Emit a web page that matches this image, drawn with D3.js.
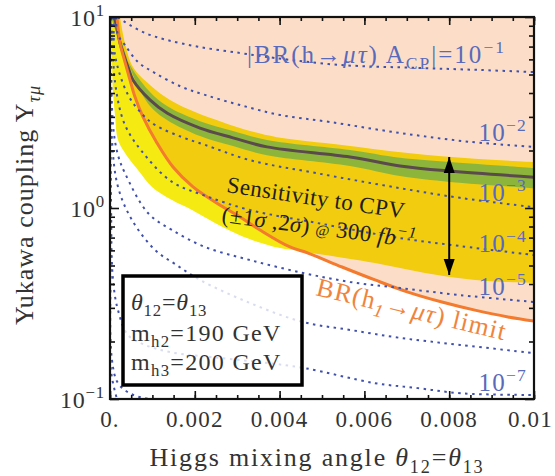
<!DOCTYPE html>
<html><head><meta charset="utf-8">
<script src="https://cdn.jsdelivr.net/npm/d3@7"></script>
<style>body{margin:0;background:#fff}svg{display:block}</style>
</head><body><svg id="c" width="555" height="476"></svg>
<script>
// ---------- data (theta, Yukawa) ----------
const centralLine = [[0.071e-3,10],[0.118e-3,9.65],[0.236e-3,7.31],[0.425e-3,5.47],[0.542e-3,4.68],[0.943e-3,3.68],[1.344e-3,3.14],[2.123e-3,2.62],[2.901e-3,2.33],[3.703e-3,2.09],[5.660e-3,1.85],[6.840e-3,1.66],[8.019e-3,1.56],[10e-3,1.45]];
const green1sUpper = [[0.024e-3,10],[0.165e-3,8.05],[0.354e-3,6.32],[0.542e-3,5.28],[0.943e-3,4.05],[1.344e-3,3.42],[2.123e-3,2.85],[2.901e-3,2.53],[3.703e-3,2.27],[5.660e-3,2.01],[6.840e-3,1.83],[8.019e-3,1.74],[10e-3,1.62]];
const green1sLower = [[0.142e-3,10],[0.283e-3,7.31],[0.472e-3,5.47],[0.590e-3,4.68],[0.943e-3,3.42],[1.344e-3,2.89],[2.123e-3,2.38],[2.901e-3,2.11],[3.703e-3,1.89],[5.660e-3,1.66],[6.840e-3,1.47],[8.019e-3,1.37],[10e-3,1.27]];
const yellow2sUpper = [[0.236e-3,10],[0.354e-3,7.31],[0.542e-3,5.47],[0.943e-3,4.41],[1.415e-3,3.68],[2.005e-3,3.18],[2.642e-3,2.82],[3.302e-3,2.53],[3.939e-3,2.35],[5.472e-3,2.14],[7.028e-3,1.94],[8.608e-3,1.81],[10e-3,1.74]];
const yellow2sLower = [[0.02e-3,10],[0.047e-3,5.95],[0.071e-3,4.00],[0.118e-3,3.07],[0.189e-3,2.27],[0.354e-3,1.94],[0.660e-3,1.58],[0.991e-3,1.29],[1.462e-3,1.10],[1.934e-3,0.976],[2.476e-3,0.835],[2.948e-3,0.740],[3.349e-3,0.680],[4.009e-3,0.617],[4.481e-3,0.596],[5.071e-3,0.567],[6.250e-3,0.515],[7.429e-3,0.457],[8.608e-3,0.420],[10e-3,0.405]];
const brLimit = [[0.165e-3,10],[0.236e-3,7.31],[0.354e-3,5.81],[0.472e-3,4.68],[0.590e-3,3.81],[0.778e-3,3.00],[1.108e-3,2.19],[1.486e-3,1.64],[1.958e-3,1.29],[2.524e-3,1.06],[3.066e-3,0.897],[3.538e-3,0.767],[4.245e-3,0.625],[4.670e-3,0.581],[5.472e-3,0.491],[6.250e-3,0.420],[7.028e-3,0.363],[7.830e-3,0.322],[8.608e-3,0.292],[9.387e-3,0.269],[10e-3,0.256]];
const contourM1 = [[0.189e-3,10],[0.354e-3,9.41],[0.825e-3,8.25],[1.344e-3,7.58],[2.123e-3,6.96],[3.066e-3,6.48],[3.892e-3,6.10],[5.425e-3,5.61],[7.311e-3,5.41],[8.726e-3,5.28],[10e-3,5.15]];
const contourM2 = [[0.142e-3,10],[0.189e-3,8.05],[0.354e-3,7.13],[0.660e-3,5.81],[1.061e-3,5.09],[1.698e-3,4.30],[2.241e-3,3.91],[3.066e-3,3.46],[4.009e-3,3.07],[5.189e-3,2.82],[6.840e-3,2.47],[8.491e-3,2.22],[10e-3,2.09]];
const contourM3 = [[0.094e-3,10],[0.118e-3,6.32],[0.425e-3,3.91],[0.778e-3,3.07],[1.061e-3,2.72],[1.698e-3,2.35],[2.241e-3,2.14],[3.302e-3,1.78],[4.882e-3,1.52],[6.840e-3,1.27],[8.255e-3,1.13],[10e-3,1.01]];
const contourM4 = [[0.047e-3,10],[0.118e-3,4.57],[0.354e-3,2.72],[0.825e-3,1.89],[1.462e-3,1.37],[2.241e-3,1.16],[3.302e-3,0.976],[4.882e-3,0.835],[6.840e-3,0.696],[8.255e-3,0.632],[10e-3,0.567]];
const contourM5 = [[0.024e-3,10],[0.071e-3,2.72],[0.189e-3,1.89],[0.354e-3,1.52],[0.896e-3,0.941],[1.462e-3,0.767],[2.241e-3,0.625],[3.302e-3,0.534],[4.552e-3,0.457],[5.660e-3,0.410],[6.840e-3,0.381],[8.255e-3,0.350],[10e-3,0.322]];
const contourM6 = [[0.012e-3,10],[0.047e-3,2.27],[0.189e-3,1.29],[0.519e-3,0.865],[1.061e-3,0.603],[1.533e-3,0.509],[2.123e-3,0.420],[3.302e-3,0.318],[4.552e-3,0.253],[5.660e-3,0.230],[6.840e-3,0.209],[8.255e-3,0.192],[10e-3,0.174]];
const contourM7 = [[0.005e-3,10],[0.024e-3,1.10],[0.071e-3,0.420],[0.189e-3,0.292],[0.425e-3,0.216],[0.825e-3,0.192],[1.415e-3,0.176],[2.358e-3,0.166],[3.538e-3,0.156],[4.599e-3,0.145],[6.250e-3,0.121],[7.264e-3,0.114],[8.302e-3,0.107],[10e-3,0.105]];
const contourM8 = [[0.003e-3,10],[0.012e-3,0.60],[0.047e-3,0.160],[0.189e-3,0.121],[0.472e-3,0.107],[0.825e-3,0.101],[1.2e-3,0.1]];
const contourM9 = [[0.001e-3,10],[0.006e-3,0.5],[0.024e-3,0.14],[0.165e-3,0.1]];
const contours = [contourM1,contourM2,contourM3,contourM4,contourM5,contourM6,contourM7,contourM8,contourM9];
const contourLabelExp = ["−1","−2","−3","−4","−5","−7"];
const contourLabelY = [5.6, 2.25, 1.09, 0.59, 0.35, 0.11];
const arrowTheta = 0.008, arrowYTop = 1.85, arrowYBottom = 0.446;
const xTickVals = [0,0.002,0.004,0.006,0.008,0.01];
const xTickLabels = ["0.","0.002","0.004","0.006","0.008","0.01"];
const yTickVals = [0.1,1,10];
const yTickExp = ["−1","0","1"];
const yMinorVals = [0.2,0.3,0.4,0.5,0.6,0.7,0.8,0.9,2,3,4,5,6,7,8,9];

// ---------- setup ----------
const FONT = "'Liberation Serif','Times New Roman',serif";
const TXT = '#333';
const svg = d3.select('#c');
const M = {l:110, r:534, t:17, b:399};
const x = d3.scaleLinear().domain([0,0.01]).range([M.l,M.r]);
const y = d3.scaleLog().domain([0.1,10]).range([M.b,M.t]);
svg.append('rect').attr('width',555).attr('height',476).attr('fill','#fff');
const defs = svg.append('defs');
defs.append('clipPath').attr('id','clip').append('rect')
  .attr('x',M.l).attr('y',M.t).attr('width',M.r-M.l).attr('height',M.b-M.t);
const mk = defs.append('marker').attr('id','ah').attr('viewBox','0 -6 16 12')
  .attr('refX',16).attr('refY',0).attr('markerUnits','userSpaceOnUse')
  .attr('markerWidth',16).attr('markerHeight',12).attr('orient','auto-start-reverse');
mk.append('path').attr('d','M0,-5.5L16,0L0,5.5Z').attr('fill','#000');

const line = d3.line().x(d=>x(d[0])).y(d=>y(d[1])).curve(d3.curveCatmullRom.alpha(0.5));
function band(up, lo){
  const a = line(up);
  const b = line(lo.slice().reverse());
  return a + 'L' + b.slice(1) + 'Z';
}
const plot = svg.append('g').attr('clip-path','url(#clip)');

// excluded region above BR limit (peach)
plot.append('path').attr('d', line(brLimit)+'L'+x(0.01)+','+y(10)+'Z').attr('fill','#fcdec8');
// 2 sigma band
plot.append('path').attr('d', band(yellow2sUpper, yellow2sLower))
  .attr('fill','#f5eb12').style('mix-blend-mode','multiply');
// 1 sigma band
plot.append('path').attr('d', band(green1sUpper, green1sLower)).attr('fill','#8db53c');
// central line
plot.append('path').attr('d', line(centralLine)).attr('fill','none')
  .attr('stroke','#5a4a4c').attr('stroke-width',3);
// BR limit
plot.append('path').attr('d', line(brLimit)).attr('fill','none')
  .attr('stroke','#f47a2e').attr('stroke-width',3);
// contours
contours.forEach(c=>{
  plot.append('path').attr('d', line(c)).attr('fill','none')
    .attr('stroke','#4151ab').attr('stroke-width',2).attr('stroke-dasharray','2.5,4.5');
});

// rich text helper
function rich(sel, parts, size){
  let shift = 0;
  parts.forEach(p=>{
    const target = p.sup ? -0.40*size : p.sub ? 0.25*size : 0;
    const ts = sel.append('tspan').text(p.t);
    if (target-shift !== 0) ts.attr('dy', target-shift);
    if (p.sup||p.sub) ts.attr('font-size', size*0.7);
    if (p.i) ts.attr('font-style','italic');
    if (p.fs) ts.attr('font-size', p.fs);
    shift = target;
  });
  return sel;
}
function txt(px, py, size, color, anchor){
  return svg.append('text').attr('x',px).attr('y',py).attr('font-family',FONT)
    .attr('font-size',size).attr('fill',color).attr('text-anchor',anchor||'start');
}

// contour labels
const LBL = '#5a6abb';
rich(txt(506, 63, 25, LBL, 'end').attr('letter-spacing',2), [{t:'|BR(h→'},{t:'μτ',i:true},{t:') A'},{t:'CP',sub:true},{t:'|=10'},{t:'−1',sup:true}], 25);
[1,2,3,4].forEach(k=>{
  rich(txt(527, y(contourLabelY[k]), 25, LBL, 'end').attr('letter-spacing',1.2), [{t:'10'},{t:contourLabelExp[k],sup:true}], 25);
});

// sensitivity annotation
const s1 = svg.append('text').attr('font-family',FONT).attr('font-size',23).attr('fill','#1e1e1e')
  .attr('letter-spacing',0.4).attr('transform','translate(226,192) rotate(8.5)');
rich(s1, [{t:'Sensitivity to CPV'}], 23);
const s2 = svg.append('text').attr('font-family',FONT).attr('font-size',23).attr('fill','#1e1e1e')
  .attr('letter-spacing',0.4).attr('transform','translate(221,222) rotate(7.5)');
rich(s2, [{t:'(±1'},{t:'σ',i:true},{t:' ,2'},{t:'σ',i:true},{t:') '},{t:'@',fs:15},{t:' 300 '},{t:'fb',i:true},{t:'−1',sup:true,i:true}], 23);

// arrow
svg.append('line').attr('x1',x(arrowTheta)).attr('x2',x(arrowTheta))
  .attr('y1',y(arrowYTop)).attr('y2',y(arrowYBottom))
  .attr('stroke','#000').attr('stroke-width',2)
  .attr('marker-start','url(#ah)').attr('marker-end','url(#ah)');

// BR limit label
const o1 = svg.append('text').attr('font-family',FONT).attr('font-size',26).attr('fill','#f0843c')
  .attr('letter-spacing',1.1).attr('transform','translate(315,295) rotate(13.5)');
rich(o1, [{t:'BR(h'},{t:'1',sub:true,i:true},{t:'→'},{t:'μτ',i:true},{t:') limit'}], 26);

// legend box
svg.append('rect').attr('x',123).attr('y',276).attr('width',179).attr('height',109)
  .attr('fill','#fff').attr('fill-opacity',0.8).attr('stroke','#000').attr('stroke-width',3.5);
rich(txt(131, 310, 24, TXT).attr('letter-spacing',0.8), [{t:'θ',i:true},{t:'12',sub:true},{t:'='},{t:'θ',i:true},{t:'13',sub:true}], 24);
rich(txt(131, 341, 24, TXT).attr('letter-spacing',1.3), [{t:'m'},{t:'h2',sub:true},{t:'=190 GeV'}], 24);
rich(txt(131, 370, 24, TXT).attr('letter-spacing',1.3), [{t:'m'},{t:'h3',sub:true},{t:'=200 GeV'}], 24);
// 10^-7 label
rich(txt(527, y(contourLabelY[5]), 25, LBL, 'end').attr('letter-spacing',1.2), [{t:'10'},{t:contourLabelExp[5],sup:true}], 25);

// frame & ticks
function axisG(axis, tx, ty){
  const g = svg.append('g').attr('transform',`translate(${tx},${ty})`).call(axis);
  g.select('.domain').remove();
  g.selectAll('line').attr('stroke','#111').attr('stroke-width',1.6);
  g.selectAll('text').remove();
  return g;
}
const xMinor = d3.range(0,21).map(i=>i*0.0005);
axisG(d3.axisBottom(x).tickValues(xMinor).tickSize(-4), 0, M.b);
axisG(d3.axisBottom(x).tickValues(xTickVals).tickSize(-8), 0, M.b);
axisG(d3.axisTop(x).tickValues(xMinor).tickSize(-4), 0, M.t);
axisG(d3.axisTop(x).tickValues(xTickVals).tickSize(-8), 0, M.t);
axisG(d3.axisLeft(y).tickValues(yMinorVals).tickSize(-5), M.l, 0);
axisG(d3.axisLeft(y).tickValues(yTickVals).tickSize(-9), M.l, 0);
axisG(d3.axisRight(y).tickValues(yMinorVals).tickSize(-5), M.r, 0);
axisG(d3.axisRight(y).tickValues(yTickVals).tickSize(-9), M.r, 0);
svg.append('rect').attr('x',M.l).attr('y',M.t).attr('width',M.r-M.l).attr('height',M.b-M.t)
  .attr('fill','none').attr('stroke','#111').attr('stroke-width',2.2);

// tick labels
xTickVals.forEach((v,i)=>{
  const last = i === xTickVals.length-1;
  txt(last ? 553 : x(v), 427, 23, TXT, last ? 'end' : 'middle').attr('letter-spacing',1.2).text(xTickLabels[i]);
});
yTickVals.forEach((v,i)=>{
  rich(txt(105, y(v)+9, 24, TXT, 'end').attr('letter-spacing',0.8), [{t:'10'},{t:yTickExp[i],sup:true}], 24);
});

// axis titles
rich(txt(317, 466, 26, TXT, 'middle').attr('letter-spacing',1.8),
  [{t:'Higgs mixing angle '},{t:'θ',i:true},{t:'12',sub:true},{t:'='},{t:'θ',i:true},{t:'13',sub:true}], 26);
const yt = svg.append('text').attr('font-family',FONT).attr('font-size',26).attr('fill',TXT)
  .attr('text-anchor','middle').attr('letter-spacing',1)
  .attr('transform','translate(33,205) rotate(-90)');
rich(yt, [{t:'Yukawa coupling Y'},{t:'τμ',sub:true,i:true}], 26);
</script></body></html>
